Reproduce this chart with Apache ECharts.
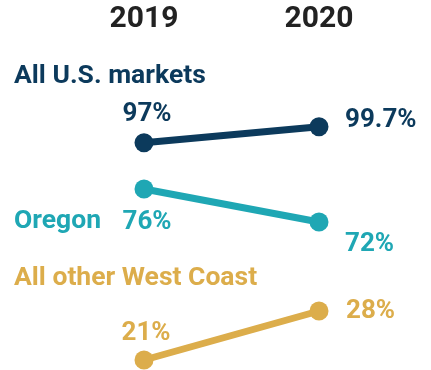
<!DOCTYPE html>
<html>
<head>
<meta charset="utf-8">
<script src="https://cdn.jsdelivr.net/npm/echarts@6/dist/echarts.min.js"></script>
<style>
  html, body { margin: 0; padding: 0; background: #fff; }
  #chart { width: 431px; height: 370px; }
</style>
</head>
<body>
<div id="chart"></div>
<script>
// Years on the horizontal axis
const years = ['2019', '2020'];

// Share of markets, percent
const seriesNames = ['All U.S. markets', 'Oregon', 'All other West Coast'];
const usValues = [97, 99.7];
const oregonValues = [76, 72];
const westCoastValues = [21, 28];

const valueLabels = {
  us: ['97%', '99.7%'],
  oregon: ['76%', '72%'],
  westCoast: ['21%', '28%']
};

const colors = ['#0c3a5c', '#1fa7b4', '#dcad4b'];
const FONT = 'Roboto';

const chart = echarts.init(document.getElementById('chart'), null, { renderer: 'canvas' });

// each series sits in its own band, so each gets its own grid and value axis
const bands = [
  { top: 125, height: 59, min: 90, max: 100 },
  { top: 156, height: 82.5, min: 70, max: 80 },
  { top: 297, height: 70, min: 20, max: 30 }
];

const grids = bands.map(b => ({ left: 144, width: 175, top: b.top, height: b.height }));

const xAxes = bands.map((b, i) => ({
  type: 'category',
  gridIndex: i,
  data: years,
  boundaryGap: false,
  position: 'top',
  axisLine: { show: false },
  axisTick: { show: false },
  splitLine: { show: false },
  axisLabel: i === 0 ? {
    show: true,
    margin: 91,
    fontFamily: FONT,
    fontWeight: 'bold',
    fontSize: 30,
    color: '#222222'
  } : { show: false }
}));

const yAxes = bands.map((b, i) => ({
  type: 'value',
  gridIndex: i,
  min: b.min,
  max: b.max,
  show: false,
  splitLine: { show: false }
}));

function labelFor(text, idx, color, placement) {
  return {
    show: true,
    position: 'inside',
    formatter: () => text[idx],
    fontFamily: FONT,
    fontWeight: 'bold',
    fontSize: 26,
    color: color,
    align: placement.align,
    verticalAlign: 'middle',
    offset: placement.offset
  };
}

function makeSeries(i, values, texts, placements) {
  return {
    type: 'line',
    name: seriesNames[i],
    xAxisIndex: i,
    yAxisIndex: i,
    data: values.map((v, k) => ({
      value: v,
      label: labelFor(texts, k, colors[i], placements[k])
    })),
    symbol: 'circle',
    symbolSize: 19,
    itemStyle: { color: colors[i] },
    lineStyle: { color: colors[i], width: 7 },
    silent: true,
    animation: false,
    z: 3
  };
}

const option = {
  animation: false,
  grid: grids,
  xAxis: xAxes,
  yAxis: yAxes,
  title: [
    { text: seriesNames[0], left: 14, top: 63 },
    { text: seriesNames[1], left: 14, top: 208 },
    { text: seriesNames[2], left: 14, top: 265 }
  ].map((t, i) => Object.assign(t, {
    textStyle: { fontFamily: FONT, fontWeight: 'bold', fontSize: 26.5, color: colors[i] },
    padding: 0
  })),
  series: [
    makeSeries(0, usValues, valueLabels.us, [
      { align: 'center', offset: [3, -28] },
      { align: 'left', offset: [26, -6] }
    ]),
    makeSeries(1, oregonValues, valueLabels.oregon, [
      { align: 'center', offset: [3, 33] },
      { align: 'left', offset: [26, 22] }
    ]),
    makeSeries(2, westCoastValues, valueLabels.westCoast, [
      { align: 'center', offset: [2, -27] },
      { align: 'left', offset: [27, 0] }
    ])
  ]
};

chart.setOption(option);
</script>
</body>
</html>
